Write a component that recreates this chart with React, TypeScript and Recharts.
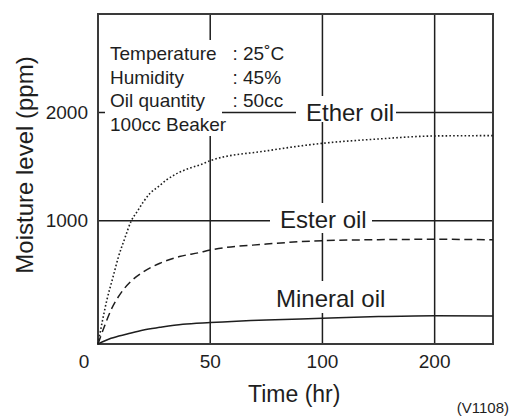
import React from 'react';
import { LineChart, Line, XAxis, YAxis, CartesianGrid, ReferenceArea } from 'recharts';

// axis ticks
const hourTicks = [0, 50, 100, 200];
const ppmTicks = [1000, 2000];

// series (hours, ppm)
const etherHours = [0, 2, 4, 6.5, 9, 12, 14.8, 17.4, 20.3, 23.2, 26.9, 30.5, 34.8, 40.7, 46.5, 50, 75, 100, 150, 200, 252];
const etherPpm = [0, 190, 360, 530, 700, 860, 998, 1083, 1176, 1253, 1314, 1376, 1432, 1484, 1524, 1555, 1645, 1715, 1755, 1783, 1786];

const esterHours = [0, 2.8, 5.8, 10.1, 14.5, 20.3, 27.6, 36.3, 45.1, 50, 75, 100, 150, 200, 252];
const esterPpm = [0, 140, 276, 411, 505, 586, 655, 709, 741, 762, 810, 838, 846, 849, 845];

const mineralHours = [0, 5.8, 13, 20.3, 27.6, 37.8, 50, 75, 100, 150, 200, 252];
const mineralPpm = [0, 46, 81, 114, 135, 160, 174, 195, 208, 222, 230, 227];

const X_END_HOURS = 252;
const Y_TOP_PPM = 2910;

// the time axis puts 0, 50, 100, 200 at equal steps
const hourToAxis = (h: number) => {
  for (let i = 0; i < hourTicks.length - 1; i++) {
    if (h <= hourTicks[i + 1]) return i + (h - hourTicks[i]) / (hourTicks[i + 1] - hourTicks[i]);
  }
  const n = hourTicks.length - 1;
  return n + (h - hourTicks[n]) / (hourTicks[n] - hourTicks[n - 1]);
};

// upper part of the moisture axis is drawn a bit tighter than 0-1000
const ppmToAxis = (v: number) => (v <= 1000 ? v / 1000 : 1 + ((v - 1000) / 1000) * 0.8775);

const toSeries = (hours: number[], ppm: number[]) =>
  hours.map((h, i) => ({ x: hourToAxis(h), y: ppmToAxis(ppm[i]) }));

const etherData = toSeries(etherHours, etherPpm);
const esterData = toSeries(esterHours, esterPpm);
const mineralData = toSeries(mineralHours, mineralPpm);

const xMax = hourToAxis(X_END_HOURS);
const yMax = ppmToAxis(Y_TOP_PPM);

const FONT = '"Liberation Sans", Arial, Helvetica, sans-serif';
const INK = '#1e1e1e';

const XTick = (props: any) => {
  const { x, y, payload } = props;
  const label = hourTicks[Math.round(payload.value)];
  return (
    <text x={label === 0 ? x - 14 : x} y={y} dy="0.71em" textAnchor="middle" fontSize={19} fontFamily={FONT} fill={INK}>
      {label}
    </text>
  );
};

const YTick = (props: any) => {
  const { x, y, payload } = props;
  const idx = ppmTicks.findIndex((t) => Math.abs(ppmToAxis(t) - payload.value) < 1e-6);
  return (
    <text x={x} y={y} dy="0.355em" textAnchor="end" fontSize={19} fontFamily={FONT} fill={INK}>
      {ppmTicks[idx]}
    </text>
  );
};

const App: React.FC = () => {
  return (
    <div style={{ position: 'absolute', left: 0, top: 0, width: 509, height: 416, background: '#fff', fontFamily: FONT }}>
      <LineChart width={509} height={416} data={etherData} margin={{ top: 14, right: 16, bottom: 32, left: 0 }}>
        <CartesianGrid stroke={INK} strokeWidth={1.5} />
        <XAxis
          type="number"
          dataKey="x"
          domain={[0, xMax]}
          ticks={hourTicks.map(hourToAxis)}
          tick={<XTick />}
          tickLine={false}
          axisLine={false}
          tickSize={0}
          tickMargin={11}
          height={40}
        />
        <YAxis
          type="number"
          dataKey="y"
          domain={[0, yMax]}
          ticks={ppmTicks.map(ppmToAxis)}
          tick={<YTick />}
          tickLine={false}
          axisLine={false}
          tickSize={0}
          tickMargin={10}
          width={98}
        />
        <ReferenceArea x1={0} x2={xMax} y1={0} y2={yMax} fill="none" stroke="#3a3a3a" strokeWidth={2} />
        <Line data={etherData} dataKey="y" type="monotone" stroke={INK} strokeWidth={1.6} strokeDasharray="1.6 2.2" dot={false} isAnimationActive={false} />
        <Line data={esterData} dataKey="y" type="monotone" stroke={INK} strokeWidth={1.5} strokeDasharray="8 4.5" dot={false} isAnimationActive={false} />
        <Line data={mineralData} dataKey="y" type="monotone" stroke={INK} strokeWidth={1.5} dot={false} isAnimationActive={false} />
      </LineChart>

      {/* annotations, axis titles */}
      <svg width={509} height={416} style={{ position: 'absolute', left: 0, top: 0, pointerEvents: 'none' }} fontFamily={FONT} fill={INK}>
        <rect x={105} y={40} width={117} height={96} fill="#fff" />
        <g fontSize={19}>
          <text x={110} y={60}>Temperature</text>
          <text x={110} y={83.5}>Humidity</text>
          <text x={110} y={106.5}>Oil quantity</text>
          <text x={110} y={130.5}>100cc Beaker</text>
          <text x={232.5} y={60}>: 25˚C</text>
          <text x={232.5} y={83.5}>: 45%</text>
          <text x={232.5} y={106.5}>: 50cc</text>
        </g>

        <rect x={296} y={96} width={100} height={26} fill="#fff" />
        <text x={306} y={120.5} fontSize={24}>Ether oil</text>

        <rect x={270} y={203} width={102} height={30} fill="#fff" />
        <text x={280} y={227.5} fontSize={24}>Ester oil</text>

        <rect x={270} y={281} width={118} height={32} fill="#fff" />
        <text x={276} y={306.5} fontSize={24}>Mineral oil</text>

        <text x={248} y={401.5} fontSize={23}>Time (hr)</text>
        <text x={509} y={412.5} fontSize={15} textAnchor="end">(V1108)</text>
        <text x={33} y={165} fontSize={24} textAnchor="middle" transform="rotate(-90 33 165)">Moisture level (ppm)</text>
      </svg>
    </div>
  );
};

export default App;
